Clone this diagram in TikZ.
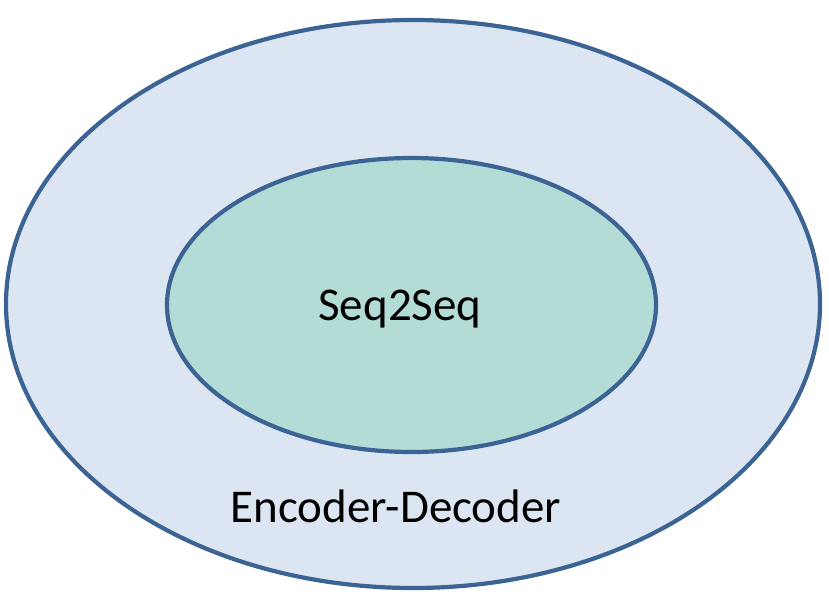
\documentclass[tikz,border=0pt]{standalone}
\usepackage{fontspec}
\setmainfont{Carlito}
\usetikzlibrary{shapes.geometric}

\definecolor{ringline}{HTML}{3B6394}
\definecolor{outerfill}{HTML}{DCE6F2}
\definecolor{innerfill}{HTML}{B4DCD6}

\tikzset{
  ring/.style={ellipse, draw=ringline, line width=4.2pt, inner sep=0pt},
  label/.style={anchor=base, font=\fontsize{47}{56}\selectfont, text=black}
}

\begin{document}
\begin{tikzpicture}[x=1pt,y=-1pt]
        \useasboundingbox (0,0) rectangle (829,602); % edit here for the margins

        \node[ring, fill=outerfill, minimum width=814pt, minimum height=568pt] (encdec) at (413,304) {};
        \node[ring, fill=innerfill, minimum width=489pt, minimum height=294pt] (seq) at (411.5,305) {};

        \node[label] (seqtext) at (400,320) {Seq2Seq};
        \node[label] (encdectext) at (396,522) {Encoder-Decoder};
    \end{tikzpicture}
\end{document}
